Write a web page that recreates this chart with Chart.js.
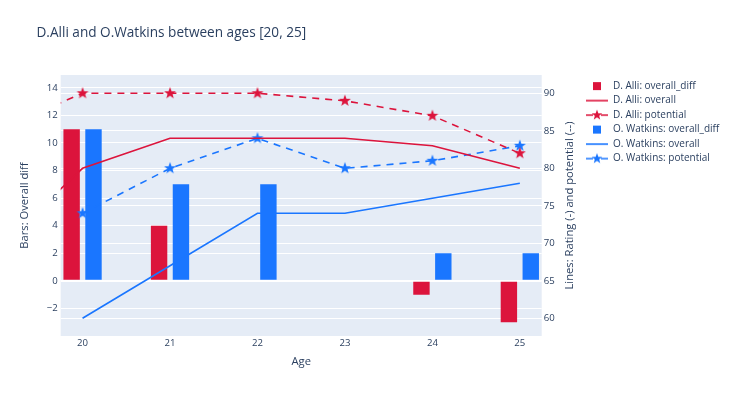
<!DOCTYPE html>
<html lang="en">
<head>
<meta charset="UTF-8">
<title>D.Alli and O.Watkins between ages [20, 25]</title>
<script src="https://cdn.jsdelivr.net/npm/chart.js"></script>
<style>
  html, body { margin: 0; padding: 0; background: #fff; }
  #wrap { width: 735px; height: 397px; position: relative; }
</style>
</head>
<body>
<div id="wrap"><canvas id="myChart"></canvas></div>
<script>
// ages on the x axis
const ages = [20, 21, 22, 23, 24, 25];
const alliAges = [19, 20, 21, 22, 23, 24, 25];

// bars (left axis)
const alliDiff = [11, 4, 0, 0, -1, -3];
const watkinsDiff = [11, 7, 7, 0, 2, 2];

// lines (right axis)
const alliOverall = [69, 80, 84, 84, 84, 83, 80];
const alliPotential = [85, 90, 90, 90, 89, 87, 82];
const watkinsOverall = [60, 67, 74, 74, 76, 78];
const watkinsPotential = [74, 80, 84, 80, 81, 83];

const leftTicks = [-2, 0, 2, 4, 6, 8, 10, 12, 14];
const rightTicks = [60, 65, 70, 75, 80, 85, 90];

const RED = '#DC143C';
const BLUE = '#1A76FF';
const TEXT = '#2a3f5f';
const FONT = "'Open Sans', 'DejaVu Sans', sans-serif";

const pts = (xs, ys) => xs.map((x, i) => ({ x: x, y: ys[i] }));

function starPath(g, cx, cy, R, r) {
    g.beginPath();
    for (let i = 0; i < 10; i++) {
        const rad = i % 2 === 0 ? R : r;
        const a = -Math.PI / 2 + i * Math.PI / 5;
        g.lineTo(cx + rad * Math.cos(a), cy + rad * Math.sin(a));
    }
    g.closePath();
}

function starImage(color) {
    const c = document.createElement('canvas');
    c.width = 14; c.height = 14;
    const g = c.getContext('2d');
    starPath(g, 7, 7, 6.3, 2.6);
    g.fillStyle = color;
    g.fill();
    return c;
}

// legend symbols: square, line, dashed line with star
function legendIcon(kind, color) {
    const c = document.createElement('canvas');
    c.width = 22; c.height = 12;
    const g = c.getContext('2d');
    g.fillStyle = color;
    g.strokeStyle = color;
    g.lineWidth = 1.6;
    if (kind === 'bar') {
        g.fillRect(7, 2, 8, 8);
    } else if (kind === 'line') {
        g.beginPath(); g.moveTo(0, 6); g.lineTo(22, 6); g.stroke();
    } else {
        g.beginPath(); g.moveTo(0, 6); g.lineTo(7, 6); g.moveTo(15, 6); g.lineTo(22, 6); g.stroke();
        starPath(g, 11, 6, 5.5, 2.3);
        g.fill();
    }
    return c;
}

const legendIcons = [
    legendIcon('bar', RED), legendIcon('line', RED), legendIcon('star', RED),
    legendIcon('bar', BLUE), legendIcon('line', BLUE), legendIcon('star', BLUE)
];

const plotBg = {
    id: 'plotBg',
    beforeDraw(chart) {
        const { ctx, chartArea: a } = chart;
        ctx.save();
        ctx.fillStyle = '#E5ECF6';
        ctx.fillRect(a.left, a.top, a.width, a.height);
        ctx.restore();
    },
    afterDraw(chart) {
        const ctx = chart.ctx;
        const a = chart.chartArea;
        ctx.save();
        ctx.fillStyle = TEXT;
        ctx.textBaseline = 'middle';
        ctx.font = '13.6px ' + FONT;
        ctx.textAlign = 'left';
        ctx.fillText('D.Alli and O.Watkins between ages [20, 25]', 36.5, 33);
        // right axis title, read bottom to top
        ctx.translate(570, (a.top + a.bottom) / 2);
        ctx.rotate(-Math.PI / 2);
        ctx.textAlign = 'center';
        ctx.font = '11.2px ' + FONT;
        ctx.fillText('Lines: Rating (-) and potential (--)', 0, 0);
        ctx.restore();
    }
};

const ctx = document.getElementById('myChart').getContext('2d');
const myChart = new Chart(ctx, {
    type: 'bar',
    data: {
        datasets: [
            {
                label: 'D. Alli: overall_diff',
                data: pts(ages, alliDiff),
                backgroundColor: RED,
                yAxisID: 'y',
                order: 1
            },
            {
                type: 'line',
                label: 'D. Alli: overall',
                data: pts(alliAges, alliOverall),
                borderColor: RED,
                borderWidth: 1.6,
                pointRadius: 0,
                yAxisID: 'y1',
                order: 0
            },
            {
                type: 'line',
                label: 'D. Alli: potential',
                data: pts(alliAges, alliPotential),
                borderColor: RED,
                backgroundColor: RED,
                borderWidth: 1.6,
                borderDash: [7, 6],
                pointStyle: starImage(RED),
                pointRadius: 6,
                yAxisID: 'y1',
                order: 0
            },
            {
                label: 'O. Watkins: overall_diff',
                data: pts(ages, watkinsDiff),
                backgroundColor: BLUE,
                yAxisID: 'y',
                order: 1
            },
            {
                type: 'line',
                label: 'O. Watkins: overall',
                data: pts(ages, watkinsOverall),
                borderColor: BLUE,
                borderWidth: 1.6,
                pointRadius: 0,
                yAxisID: 'y1',
                order: 0
            },
            {
                type: 'line',
                label: 'O. Watkins: potential',
                data: pts(ages, watkinsPotential),
                borderColor: BLUE,
                backgroundColor: BLUE,
                borderWidth: 1.6,
                borderDash: [7, 6],
                pointStyle: starImage(BLUE),
                pointRadius: 6,
                yAxisID: 'y1',
                order: 0
            }
        ]
    },
    options: {
        responsive: true,
        maintainAspectRatio: false,
        animation: false,
        devicePixelRatio: 1,
        layout: { padding: { top: 75, right: 13.5, bottom: 0, left: 0 } },
        datasets: {
            bar: { barPercentage: 0.75, categoryPercentage: 0.5, borderWidth: 0 }
        },
        scales: {
            x: {
                type: 'linear',
                min: 19.75,
                max: 25.25,
                offset: false,
                grid: { display: false, drawTicks: false },
                border: { display: false },
                ticks: {
                    stepSize: 1, includeBounds: false, padding: 2,
                    color: TEXT, font: { family: FONT, size: 9.6 }
                },
                title: {
                    display: true, text: 'Age', color: TEXT,
                    font: { family: FONT, size: 11.2 },
                    padding: { top: 0, bottom: 28 }
                },
                afterFit(s) { s.height = 61; }
            },
            y: {
                position: 'left',
                min: -4,
                max: 14.93,
                afterBuildTicks(s) { s.ticks = leftTicks.map(v => ({ value: v })); },
                ticks: {
                    padding: 3, color: TEXT, font: { family: FONT, size: 9.6 },
                    callback: v => String(v).replace('-', '\u2212')
                },
                grid: {
                    color: '#ffffff',
                    lineWidth: c => (c.tick && c.tick.value === 0 ? 2 : 1),
                    drawTicks: false
                },
                border: { display: false },
                title: {
                    display: true, text: 'Bars: Overall diff', color: TEXT,
                    font: { family: FONT, size: 11.2 },
                    padding: { top: 18, bottom: 0 }
                },
                afterFit(s) { s.width = 60.7; }
            },
            y1: {
                position: 'right',
                min: 57.64,
                max: 92.44,
                afterBuildTicks(s) { s.ticks = rightTicks.map(v => ({ value: v })); },
                ticks: { padding: 2, color: TEXT, font: { family: FONT, size: 9.6 } },
                grid: { color: '#ffffff', lineWidth: 1, drawTicks: false },
                border: { display: false },
                afterFit(s) { s.width = 39.8; }
            }
        },
        plugins: {
            tooltip: { enabled: false },
            legend: {
                position: 'right',
                align: 'start',
                fullSize: false,
                maxWidth: 140,
                // empty title only nudges the rows down a little
                title: { display: true, text: ' ', font: { size: 1 }, padding: 0.2 },
                labels: {
                    usePointStyle: true,
                    pointStyleWidth: 22,
                    boxHeight: 10,
                    padding: 4.5,
                    color: TEXT,
                    font: { family: FONT, size: 10 },
                    sort: (a, b) => a.datasetIndex - b.datasetIndex,
                    generateLabels(chart) {
                        const items = Chart.defaults.plugins.legend.labels.generateLabels(chart);
                        items.forEach(it => { it.pointStyle = legendIcons[it.datasetIndex]; });
                        return items;
                    }
                }
            }
        }
    },
    plugins: [plotBg]
});
</script>
</body>
</html>
